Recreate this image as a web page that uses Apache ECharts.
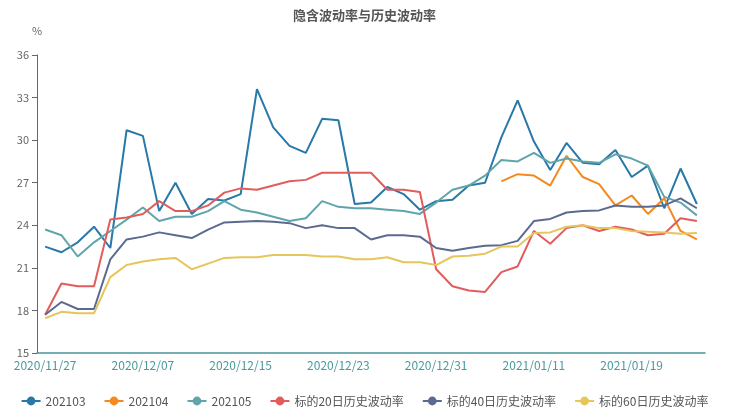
<!DOCTYPE html>
<html><head><meta charset="utf-8">
<script src="https://cdn.jsdelivr.net/npm/echarts@6/dist/echarts.min.js"></script>
<style>html,body{margin:0;padding:0;background:#fff}#c{width:729px;height:414px}</style>
</head><body><div id="c"></div>
<script>
const dates = ["2020/11/27","2020/11/30","2020/12/01","2020/12/02","2020/12/03","2020/12/04","2020/12/07","2020/12/08","2020/12/09","2020/12/10","2020/12/11","2020/12/14","2020/12/15","2020/12/16","2020/12/17","2020/12/18","2020/12/21","2020/12/22","2020/12/23","2020/12/24","2020/12/25","2020/12/28","2020/12/29","2020/12/30","2020/12/31","2021/01/04","2021/01/05","2021/01/06","2021/01/07","2021/01/08","2021/01/11","2021/01/12","2021/01/13","2021/01/14","2021/01/15","2021/01/18","2021/01/19","2021/01/20","2021/01/21","2021/01/22","2021/01/25"];
const s202103 = [22.5,22.1,22.8,23.9,22.4,30.7,30.3,25.0,27.0,24.8,25.85,25.75,26.2,33.6,30.9,29.6,29.1,31.5,31.4,25.5,25.6,26.7,26.2,25.1,25.7,25.8,26.8,27.0,30.2,32.8,29.9,27.9,29.8,28.4,28.3,29.3,27.4,28.2,25.2,28.0,25.5];
const s202104 = [null,null,null,null,null,null,null,null,null,null,null,null,null,null,null,null,null,null,null,null,null,null,null,null,null,null,null,null,27.1,27.6,27.5,26.8,28.9,27.4,26.9,25.4,26.1,24.8,25.9,23.6,23.0];
const s202105 = [23.7,23.3,21.8,22.8,23.6,24.4,25.25,24.3,24.6,24.6,25.0,25.7,25.1,24.9,24.6,24.3,24.5,25.7,25.3,25.2,25.2,25.1,25.0,24.8,25.6,26.5,26.8,27.5,28.6,28.5,29.1,28.4,28.7,28.5,28.4,29.0,28.7,28.2,26.0,25.6,24.7];
const hv20 = [17.7,19.9,19.7,19.7,24.4,24.55,24.8,25.7,25.0,25.0,25.4,26.3,26.6,26.5,26.8,27.1,27.2,27.7,27.7,27.7,27.7,26.5,26.5,26.35,20.9,19.7,19.4,19.3,20.7,21.1,23.6,22.7,23.8,24.0,23.6,23.9,23.7,23.3,23.4,24.5,24.3];
const hv40 = [17.7,18.6,18.1,18.1,21.6,23.0,23.2,23.5,23.3,23.1,23.7,24.2,24.25,24.3,24.25,24.15,23.8,24.0,23.8,23.8,23.0,23.3,23.3,23.2,22.4,22.2,22.4,22.55,22.6,22.9,24.3,24.45,24.9,25.0,25.05,25.4,25.3,25.3,25.4,25.9,25.2];
const hv60 = [17.45,17.9,17.8,17.8,20.35,21.2,21.45,21.6,21.7,20.9,21.3,21.7,21.75,21.75,21.9,21.9,21.9,21.8,21.8,21.6,21.6,21.75,21.4,21.4,21.2,21.8,21.85,22.0,22.5,22.5,23.45,23.5,23.9,24.0,23.8,23.8,23.6,23.55,23.5,23.4,23.45];
const names = ["202103","202104","202105","标的20日历史波动率","标的40日历史波动率","标的60日历史波动率"];
const colors = ["#2878a8","#f5891f","#5fa5a9","#e25c5c","#5a6a91","#e6c55a"];
const seriesData = [s202103,s202104,s202105,hv20,hv40,hv60];

const font = "'Microsoft YaHei','Noto Sans CJK SC',sans-serif";
const chart = echarts.init(document.getElementById('c'));
chart.setOption({
  animation:false,
  color: colors,
  title:{text:"隐含波动率与历史波动率",left:'center',top:4,textStyle:{fontSize:13,fontWeight:'bold',color:'#555',fontFamily:font}},
  legend:{bottom:2,left:'center',padding:[5,2],itemWidth:19,itemHeight:11,itemGap:18,textStyle:{fontSize:12,color:'#555',fontFamily:font},data:names},
  grid:{left:37,right:24,top:55,bottom:61,containLabel:false},
  xAxis:{type:'category',data:dates,boundaryGap:true,
    axisLine:{lineStyle:{color:'#4a9598',width:1.5}},
    axisTick:{interval:5,lineStyle:{color:'#4a9598'}},
    axisLabel:{interval:5,color:'#4a9a9c',fontSize:12,fontFamily:font,margin:6}},
  yAxis:{type:'value',min:15,max:36,interval:3,name:'%',nameGap:19,
    nameTextStyle:{color:'#666',fontSize:11,fontFamily:font,align:'center'},
    axisLine:{show:true,lineStyle:{color:'#666'}},axisTick:{show:true,lineStyle:{color:'#666'}},
    splitLine:{show:false},
    axisLabel:{color:'#666',fontSize:11,fontFamily:font}},
  series: names.map((n,i)=>({name:n,type:'line',data:seriesData[i],symbol:'circle',symbolSize:10,showSymbol:false,
    lineStyle:{width:2,color:colors[i]},itemStyle:{color:colors[i]}}))
});
</script></body></html>
